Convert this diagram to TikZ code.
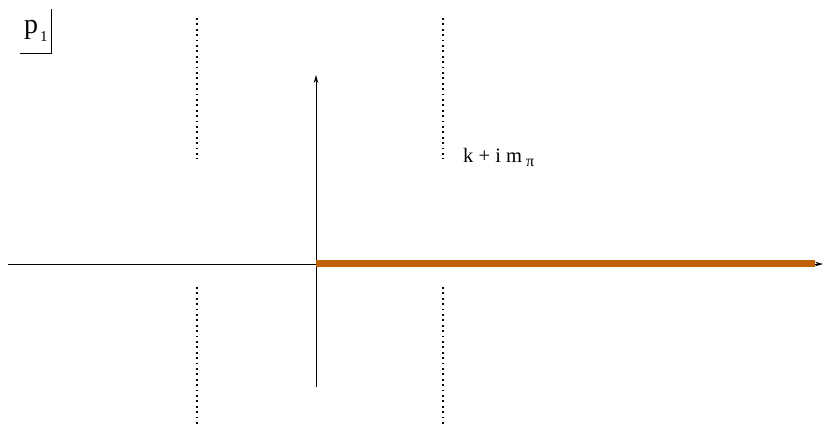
\documentclass[tikz,border=0pt]{standalone}
\usepackage{fontspec}
\setmainfont{Liberation Serif}
\usetikzlibrary{arrows.meta}
\definecolor{cutorange}{RGB}{192,96,0}
\begin{document}
\begin{tikzpicture}[x=1pt,y=-1pt,
  axis/.style={line width=0.8pt,-{Stealth[length=8pt,width=4.5pt]}},
  cutline/.style={line width=1.8pt,dash pattern=on 1.8pt off 3.6pt},
  branch/.style={line width=7pt,cutorange},
  lbl/.style={inner sep=0pt,anchor=base west}]
\useasboundingbox (0,0) rectangle (823,425);
% axes
\coordinate (xs) at (8,264);
\coordinate (xe) at (823,264);
\coordinate (ys) at (316,387);
\coordinate (ye) at (316,75);
\draw[axis] (xs) -- (xe);
\draw[axis] (ys) -- (ye);
% branch cut
\coordinate (bs) at (316,264);
\coordinate (be) at (815,264);
\draw[branch] (bs) -- (be);
% dotted lines
\coordinate (a1) at (197,18);  \coordinate (a2) at (197,159);
\coordinate (a3) at (197,287); \coordinate (a4) at (197,425);
\coordinate (b1) at (443,18);  \coordinate (b2) at (443,159);
\coordinate (b3) at (443,287); \coordinate (b4) at (443,425);
\draw[cutline] (a1) -- (a2);
\draw[cutline] (a3) -- (a4);
\draw[cutline] (b1) -- (b2);
\draw[cutline] (b3) -- (b4);
% label
\node[lbl,font=\fontsize{20.5}{22}\selectfont] (k) at (463,163) {k + i m};
\node[lbl,font=\fontsize{16}{18}\selectfont] (pi) at (526,167) {π};
% p1 box
\node[lbl,font=\fontsize{28}{30}\selectfont] (p) at (24,34) {p};
\node[lbl,font=\fontsize{15}{17}\selectfont] (one) at (40,42) {1};
\coordinate (c1) at (20,53);
\coordinate (c2) at (51,53);
\coordinate (c3) at (51,9);
\draw[line width=0.8pt] (c1) -- (c2) -- (c3);
\end{tikzpicture}
\end{document}
